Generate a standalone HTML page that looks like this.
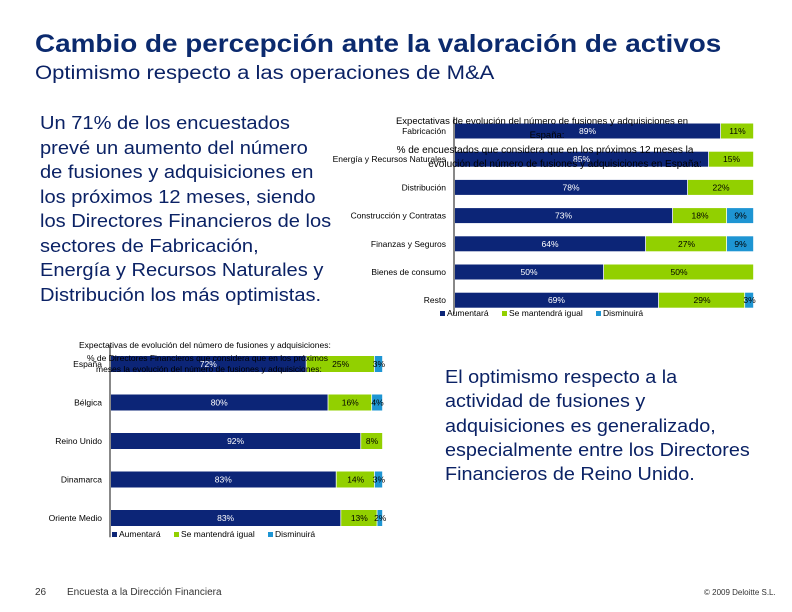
<!DOCTYPE html>
<html><head><meta charset="utf-8"><style>
body{margin:0;width:792px;height:612px;background:#fff;position:relative;overflow:hidden;font-family:"Liberation Sans",sans-serif;color:#0b2265}
.abs{position:absolute}
</style></head><body>
<div class="abs" style="left:35px;top:30px;font-size:25px;font-weight:bold;color:#0b2a6e;white-space:nowrap;transform:scaleX(1.115);transform-origin:left top">Cambio de percepción ante la valoración de activos</div>
<div class="abs" style="left:35px;top:63px;font-size:19px;color:#0b2265;white-space:nowrap;transform:scaleX(1.16);transform-origin:left top">Optimismo respecto a las operaciones de M&amp;A</div>
<div class="abs" style="left:40px;top:111px;font-size:18.5px;line-height:24.5px;white-space:nowrap;color:#0b2265;transform:scaleX(1.085);transform-origin:left top">Un 71% de los encuestados<br>prevé un aumento del número<br>de fusiones y adquisiciones en<br>los próximos 12 meses, siendo<br>los Directores Financieros de los<br>sectores de Fabricación,<br>Energía y Recursos Naturales y<br>Distribución los más optimistas.</div>
<div class="abs" style="left:445px;top:365px;font-size:18.5px;line-height:24.3px;white-space:nowrap;color:#0b2265;transform:scaleX(1.07);transform-origin:left top">El optimismo respecto a la<br>actividad de fusiones y<br>adquisiciones es generalizado,<br>especialmente entre los Directores<br>Financieros de Reino Unido.</div>
<div class="abs" style="left:35px;top:587px;font-size:10px;color:#333">26</div>
<div class="abs" style="left:67px;top:587px;font-size:10px;color:#333">Encuesta a la Dirección Financiera</div>
<div class="abs" style="left:704px;top:588px;font-size:8px;color:#333">© 2009 Deloitte S.L.</div>
<svg class="abs" id="svg" style="left:0;top:0" width="792" height="612" font-family="Liberation Sans, sans-serif"></svg>
<script>
const cats1=["Fabricación","Energía y Recursos Naturales","Distribución","Construcción y Contratas","Finanzas y Seguros","Bienes de consumo","Resto"];
const aum1=[89,85,78,73,64,50,69];
const igual1=[11,15,22,18,27,50,29];
const dism1=[0,0,0,9,9,0,3];
const cats2=["España","Bélgica","Reino Unido","Dinamarca","Oriente Medio"];
const aum2=[72,80,92,83,83];
const igual2=[25,16,8,14,13];
const dism2=[3,4,0,3,2];
const colors=["#0c2577","#92d000","#1e95d3"];
const svg=document.getElementById('svg');
const NS='http://www.w3.org/2000/svg';
function mk(t,a,p){const e=document.createElementNS(NS,t);for(const k in a)e.setAttribute(k,a[k]);(p||svg).appendChild(e);return e;}
function chart(cfg){
  const {cats,series,x0,w,y0,step,bh,fs,name}=cfg;
  const g=mk('g',{});
  
  
  const xs=v=>x0+v/100*w;
  cats.forEach((c,i)=>{
    const cy=y0+i*step;
    const lab=mk('text',{x:x0-8,y:cy+3,'font-size':fs,'text-anchor':'end',fill:'#000'},g);
    lab.textContent=c;
    
    
    let acc=0;
    const tot=series.reduce((s,a)=>s+a[i],0);
    series.forEach((arr,si)=>{
      const v=arr[i]*100/tot;
      if(arr[i]>0){
        const r=mk('rect',{x:xs(acc),y:cy-bh/2,width:xs(acc+v)-xs(acc)-0.8,height:bh,fill:colors[si]},g);
        
        
        const t=mk('text',{x:(xs(acc)+xs(acc+v))/2,y:cy+3,'font-size':fs,'text-anchor':'middle',fill:si==0?'#fff':'#000'},g);
        t.textContent=arr[i]+'%';
        
        
      }
      acc+=v;
    });
  });
  const ax=mk('line',{x1:x0,x2:x0,y1:y0-step/2,y2:y0+(cats.length-0.5)*step,stroke:'#888','stroke-width':2},g);
  
  
}
chart({cats:cats1,series:[aum1,igual1,dism1],x0:454,w:300,y0:131,step:28.2,bh:15,fs:8.5,name:'sector-chart'});
chart({cats:cats2,series:[aum2,igual2,dism2],x0:110,w:273,y0:364,step:38.5,bh:16,fs:8.5,name:'country-chart'});
function legend(x,y,name,items){
  const g=mk('g',{});
  
  
  items.forEach((it,i)=>{
    mk('rect',{x:it[1],y:y-5,width:5,height:5,fill:colors[i]},g);
    const t=mk('text',{x:it[1]+7,y:y,'font-size':8.5,fill:'#000'},g);t.textContent=it[0];
  });
}
legend(0,316,'sector-legend',[["Aumentará",440],["Se mantendrá igual",502],["Disminuirá",596]]);
legend(0,537,'country-legend',[["Aumentará",112],["Se mantendrá igual",174],["Disminuirá",268]]);
function txt(x,y,s,fs,anchor,bold,name){const t=mk('text',{x:x,y:y,'font-size':fs,'text-anchor':anchor||'start',fill:'#000','font-weight':bold?'bold':'normal'});t.textContent=s;}
txt(542,124,"Expectativas de evolución del número de fusiones y adquisiciones en",9.5,'middle',false,'sector-chart-title');
txt(547,138,"España:",9.5,'middle',false,'sector-chart-title-2');
txt(545,153,"% de encuestados que considera que en los próximos 12 meses la",10,'middle',false,'sector-chart-subtitle');
txt(565,167,"evolución del número de fusiones y adquisiciones en España:",10,'middle',false,'sector-chart-subtitle-2');
txt(79,348,"Expectativas de evolución del número de fusiones y adquisiciones:",8.5,'start',false,'country-chart-title');
txt(87,361,"% de Directores Financieros que considera que en los próximos",8.5,'start',false,'country-chart-subtitle');
txt(96,372,"meses la evolución del número de fusiones y adquisiciones:",8.5,'start',false,'country-chart-subtitle-2');
</script>
</body></html>
